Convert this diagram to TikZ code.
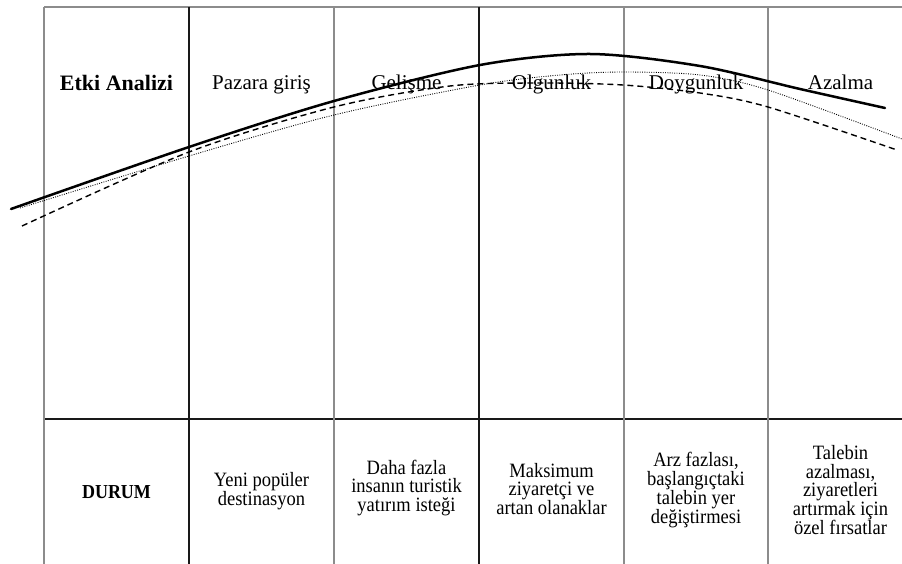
\documentclass[tikz,border=0pt]{standalone}
\usepackage{fontspec}
\setmainfont{Liberation Serif}
\begin{document}
\begin{tikzpicture}[x=1pt,y=-1pt,
  gridgray/.style={draw=black!45,line width=1.1pt},
  gridblack/.style={draw=black!90,line width=1.1pt},
  phase/.style={anchor=base,inner sep=0pt,font=\fontsize{21}{24}\selectfont},
  phasebold/.style={anchor=base,inner sep=0pt,font=\fontsize{22}{24}\selectfont\bfseries},
  cell/.style={align=center,inner sep=0pt,yscale=1.1,transform shape,font=\fontsize{18.5}{17}\selectfont},
  cellbold/.style={align=center,inner sep=0pt,yscale=1.1,transform shape,font=\fontsize{18}{17}\selectfont\bfseries},
  curvesolid/.style={line width=2.5pt,line cap=round},
  curvedash/.style={line width=1.4pt,dash pattern=on 6pt off 4pt},
  curvedot/.style={line width=0.9pt,dash pattern=on 0.9pt off 1.4pt},
]
\useasboundingbox (0,0) rectangle (902,564);
% grid
\draw[gridgray] (44,7) -- (902,7);
\draw[gridblack] (44,419) -- (902,419);
\draw[gridgray] (44,7) -- (44,564);
\draw[gridblack] (189,7) -- (189,564);
\draw[gridgray] (334,7) -- (334,564);
\draw[gridblack] (479,7) -- (479,564);
\draw[gridgray] (624,7) -- (624,564);
\draw[gridgray] (768,7) -- (768,564);
% header labels
\node[phasebold] (etki) at (116.5,91) {Etki Analizi};
\node[phase] (pazar) at (261.5,90) {Pazara giriş};
\node[phase] (gelis) at (406.5,90) {Gelişme};
\node[phase] (olgun) at (551.5,90) {Olgunluk};
\node[phase] (doygun) at (696,90) {Doygunluk};
\node[phase] (azal) at (840.5,90) {Azalma};
% bottom row
\node[cellbold] (durum) at (116.5,492) {DURUM};
\node[cell] (c1) at (261.5,491) {Yeni popüler\\destinasyon};
\node[cell] (c2) at (406.5,488) {Daha fazla\\insanın turistik\\yatırım isteği};
\node[cell] (c3) at (551.5,489) {Maksimum\\ziyaretçi ve\\artan olanaklar};
\node[cell] (c4) at (696,490) {Arz fazlası,\\başlangıçtaki\\talebin yer\\değiştirmesi};
\node[cell] (c5) at (840.5,490) {Talebin\\azalması,\\ziyaretleri\\artırmak için\\özel fırsatlar};
% curves
\draw[curvedot] plot[smooth] coordinates {(20,208) (189,156) (334,115) (480,85) (560,75) (623,72) (700,75) (768,90) (902,139)};
\draw[curvedash] plot[smooth] coordinates {(22,226) (189,152) (334,107) (450,86) (540,83) (623,85) (700,93) (768,107) (897,150)};
\draw[curvesolid] plot[smooth] coordinates {(11,209) (189,147) (334,101) (480,65) (590,54) (700,66) (800,89) (885,108)};
\end{tikzpicture}
\end{document}
